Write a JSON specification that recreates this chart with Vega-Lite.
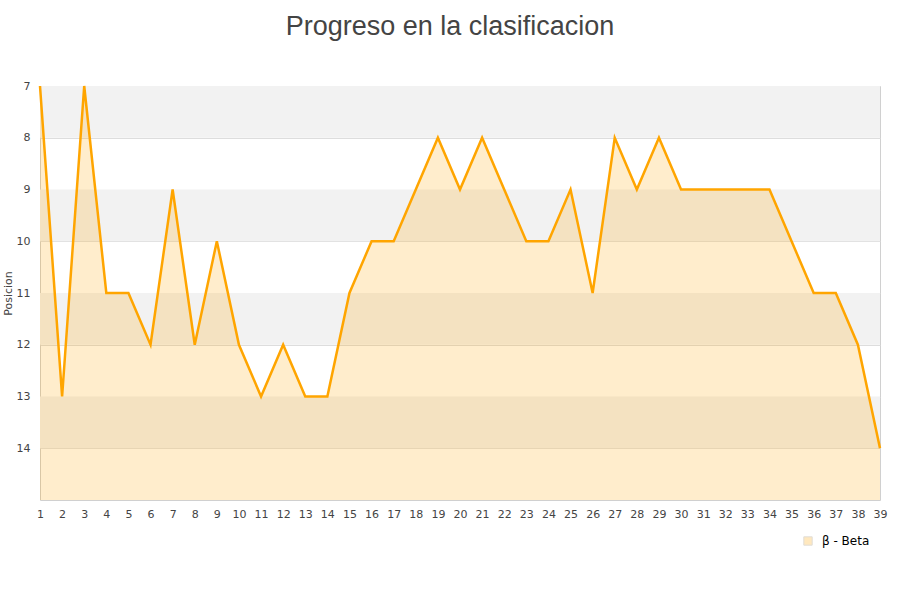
{
  "$schema": "https://vega.github.io/schema/vega-lite/v6.json",
  "width": 840,
  "height": 414,
  "autosize": {"type": "none"},
  "padding": {"left": 40, "top": 86, "right": 20, "bottom": 100},
  "background": "white",
  "title": {
    "text": "Progreso en la clasificacion",
    "font": "Liberation Sans",
    "fontSize": 27,
    "fontWeight": "normal",
    "color": "#444444",
    "anchor": "middle",
    "dx": -10,
    "offset": 39
  },
  "config": {
    "view": {"stroke": "#d0d0d0", "strokeWidth": 1},
    "axis": {
      "labelFont": "DejaVu Sans",
      "labelFontSize": 11,
      "labelColor": "#444444",
      "titleFont": "DejaVu Sans",
      "titleFontSize": 11,
      "titleFontWeight": "normal",
      "titleColor": "#444444",
      "ticks": false,
      "domain": false,
      "labelOverlap": false
    },
    "axisX": {"labelOverlap": false, "labelSeparation": 0},
    "axisQuantitative": {"labelOverlap": false}
  },
  "datasets": {
    "bands": [
      {"y0": 7, "y1": 8},
      {"y0": 9, "y1": 10},
      {"y0": 11, "y1": 12},
      {"y0": 13, "y1": 14}
    ],
    "pos": [
      {"jornada": 1, "posicion": 7, "serie": "β - Beta"},
      {"jornada": 2, "posicion": 13, "serie": "β - Beta"},
      {"jornada": 3, "posicion": 7, "serie": "β - Beta"},
      {"jornada": 4, "posicion": 11, "serie": "β - Beta"},
      {"jornada": 5, "posicion": 11, "serie": "β - Beta"},
      {"jornada": 6, "posicion": 12, "serie": "β - Beta"},
      {"jornada": 7, "posicion": 9, "serie": "β - Beta"},
      {"jornada": 8, "posicion": 12, "serie": "β - Beta"},
      {"jornada": 9, "posicion": 10, "serie": "β - Beta"},
      {"jornada": 10, "posicion": 12, "serie": "β - Beta"},
      {"jornada": 11, "posicion": 13, "serie": "β - Beta"},
      {"jornada": 12, "posicion": 12, "serie": "β - Beta"},
      {"jornada": 13, "posicion": 13, "serie": "β - Beta"},
      {"jornada": 14, "posicion": 13, "serie": "β - Beta"},
      {"jornada": 15, "posicion": 11, "serie": "β - Beta"},
      {"jornada": 16, "posicion": 10, "serie": "β - Beta"},
      {"jornada": 17, "posicion": 10, "serie": "β - Beta"},
      {"jornada": 18, "posicion": 9, "serie": "β - Beta"},
      {"jornada": 19, "posicion": 8, "serie": "β - Beta"},
      {"jornada": 20, "posicion": 9, "serie": "β - Beta"},
      {"jornada": 21, "posicion": 8, "serie": "β - Beta"},
      {"jornada": 22, "posicion": 9, "serie": "β - Beta"},
      {"jornada": 23, "posicion": 10, "serie": "β - Beta"},
      {"jornada": 24, "posicion": 10, "serie": "β - Beta"},
      {"jornada": 25, "posicion": 9, "serie": "β - Beta"},
      {"jornada": 26, "posicion": 11, "serie": "β - Beta"},
      {"jornada": 27, "posicion": 8, "serie": "β - Beta"},
      {"jornada": 28, "posicion": 9, "serie": "β - Beta"},
      {"jornada": 29, "posicion": 8, "serie": "β - Beta"},
      {"jornada": 30, "posicion": 9, "serie": "β - Beta"},
      {"jornada": 31, "posicion": 9, "serie": "β - Beta"},
      {"jornada": 32, "posicion": 9, "serie": "β - Beta"},
      {"jornada": 33, "posicion": 9, "serie": "β - Beta"},
      {"jornada": 34, "posicion": 9, "serie": "β - Beta"},
      {"jornada": 35, "posicion": 10, "serie": "β - Beta"},
      {"jornada": 36, "posicion": 11, "serie": "β - Beta"},
      {"jornada": 37, "posicion": 11, "serie": "β - Beta"},
      {"jornada": 38, "posicion": 12, "serie": "β - Beta"},
      {"jornada": 39, "posicion": 14, "serie": "β - Beta"}
    ]
  },
  "layer": [
    {
      "data": {"name": "bands"},
      "mark": {"type": "rect", "fill": "#f2f2f2"},
      "encoding": {
        "y": {"field": "y0", "type": "quantitative", "scale": {"domain": [7, 15], "reverse": true, "nice": false, "zero": false}},
        "y2": {"field": "y1"}
      }
    },
    {
      "data": {"name": "pos"},
      "mark": {"type": "area", "fillOpacity": 0.2, "interpolate": "linear"},
      "encoding": {
        "x": {
          "field": "jornada", "type": "quantitative",
          "scale": {"domain": [1, 39], "nice": false, "zero": false},
          "axis": {"values": [1,2,3,4,5,6,7,8,9,10,11,12,13,14,15,16,17,18,19,20,21,22,23,24,25,26,27,28,29,30,31,32,33,34,35,36,37,38,39], "title": null, "grid": false, "labelPadding": 8, "labelFlush": false, "labelOverlap": false, "labelSeparation": 0}
        },
        "y": {
          "field": "posicion", "type": "quantitative",
          "scale": {"domain": [7, 15], "reverse": true, "nice": false, "zero": false},
          "axis": {"values": [7,8,9,10,11,12,13,14], "title": "Posicion", "grid": true, "gridColor": "#dddddd", "labelPadding": 10, "titlePadding": 3, "labelOverlap": false}
        },
        "y2": {"datum": 15},
        "fill": {
          "field": "serie", "type": "nominal",
          "scale": {"range": ["#ffa500"]},
          "legend": {
            "title": null,
            "orient": "none",
            "legendX": 762,
            "legendY": 449,
            "symbolType": "square",
            "symbolSize": 70,
            "symbolOpacity": 0.25,
            "symbolStrokeColor": "#8a7a60",
            "symbolStrokeWidth": 1,
            "labelFont": "DejaVu Sans",
            "labelFontSize": 12,
            "labelColor": "#000000",
            "labelOffset": 8
          }
        }
      }
    },
    {
      "data": {"name": "pos"},
      "mark": {"type": "line", "stroke": "#ffa500", "strokeWidth": 2.5, "interpolate": "linear"},
      "encoding": {
        "x": {"field": "jornada", "type": "quantitative", "axis": {"values": [1,2,3,4,5,6,7,8,9,10,11,12,13,14,15,16,17,18,19,20,21,22,23,24,25,26,27,28,29,30,31,32,33,34,35,36,37,38,39], "title": null, "grid": false, "labelPadding": 8, "labelFlush": false, "labelOverlap": false, "labelSeparation": 0}},
        "y": {"field": "posicion", "type": "quantitative"}
      }
    }
  ]
}
